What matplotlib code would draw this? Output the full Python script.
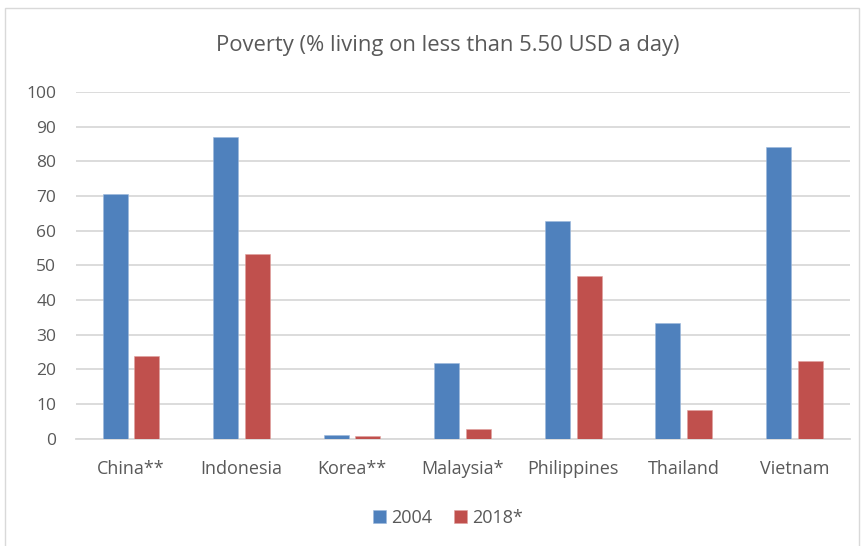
import matplotlib.pyplot as plt
import numpy as np
from matplotlib.patches import Rectangle

# data
countries = ['China**', 'Indonesia', 'Korea**', 'Malaysia*', 'Philippines', 'Thailand', 'Vietnam']
poverty_2004 = [70.5, 86.9, 1.1, 21.7, 62.9, 33.4, 84.1]
poverty_2018 = [23.9, 53.2, 0.7, 2.8, 46.9, 8.3, 22.4]
series_names = ['2004', '2018*']
yticks = list(range(0, 101, 10))

blue = '#4F81BD'
red = '#C0504D'
text_col = '#595959'
grid_col = '#D9D9D9'

plt.rcParams['font.family'] = ['Open Sans', 'DejaVu Sans']

fig = plt.figure(figsize=(8.68, 5.46), dpi=100)
ax = fig.add_axes([0.0872, 0.1965, 0.8916, 0.635])

# chart border like the spreadsheet frame
fig.patches.append(Rectangle((0.006, -0.02), 0.984, 1.005, transform=fig.transFigure,
                             fill=False, edgecolor='#D9D9D9', linewidth=1.0))

x = np.arange(len(countries))
w = 0.227
off = 0.1435
ax.bar(x - off, poverty_2004, w, color=blue, edgecolor='#9DB8DC', linewidth=0.4,
       label=series_names[0], zorder=3)
ax.bar(x + off, poverty_2018, w, color=red, edgecolor='#E0A09E', linewidth=0.4,
       label=series_names[1], zorder=3)

ax.set_xlim(-0.5, len(countries) - 0.5)
ax.set_ylim(0, 100)
ax.set_yticks(yticks)
ax.set_xticks(x)
ax.set_xticklabels(countries)
ax.yaxis.grid(True, color=grid_col, linewidth=1.3, zorder=0)
ax.set_axisbelow(True)
for s in ['top', 'right', 'left']:
    ax.spines[s].set_visible(False)
ax.spines['bottom'].set_color(grid_col)
ax.spines['bottom'].set_linewidth(1.3)
ax.tick_params(axis='both', length=0, labelsize=12.5, colors=text_col)
ax.tick_params(axis='x', labelsize=13, pad=15)
ax.tick_params(axis='y', pad=14)

fig.text(0.516, 0.916, 'Poverty (% living on less than 5.50 USD a day)',
         ha='center', va='center', fontsize=15.8, color=text_col)

fig.legend(loc='center', bbox_to_anchor=(0.516, 0.052), ncol=2, frameon=False,
           fontsize=13, handlelength=0.7, handleheight=0.7, handletextpad=0.3,
           columnspacing=1.2, labelcolor=text_col)

fig.savefig('out.png', dpi=100)
